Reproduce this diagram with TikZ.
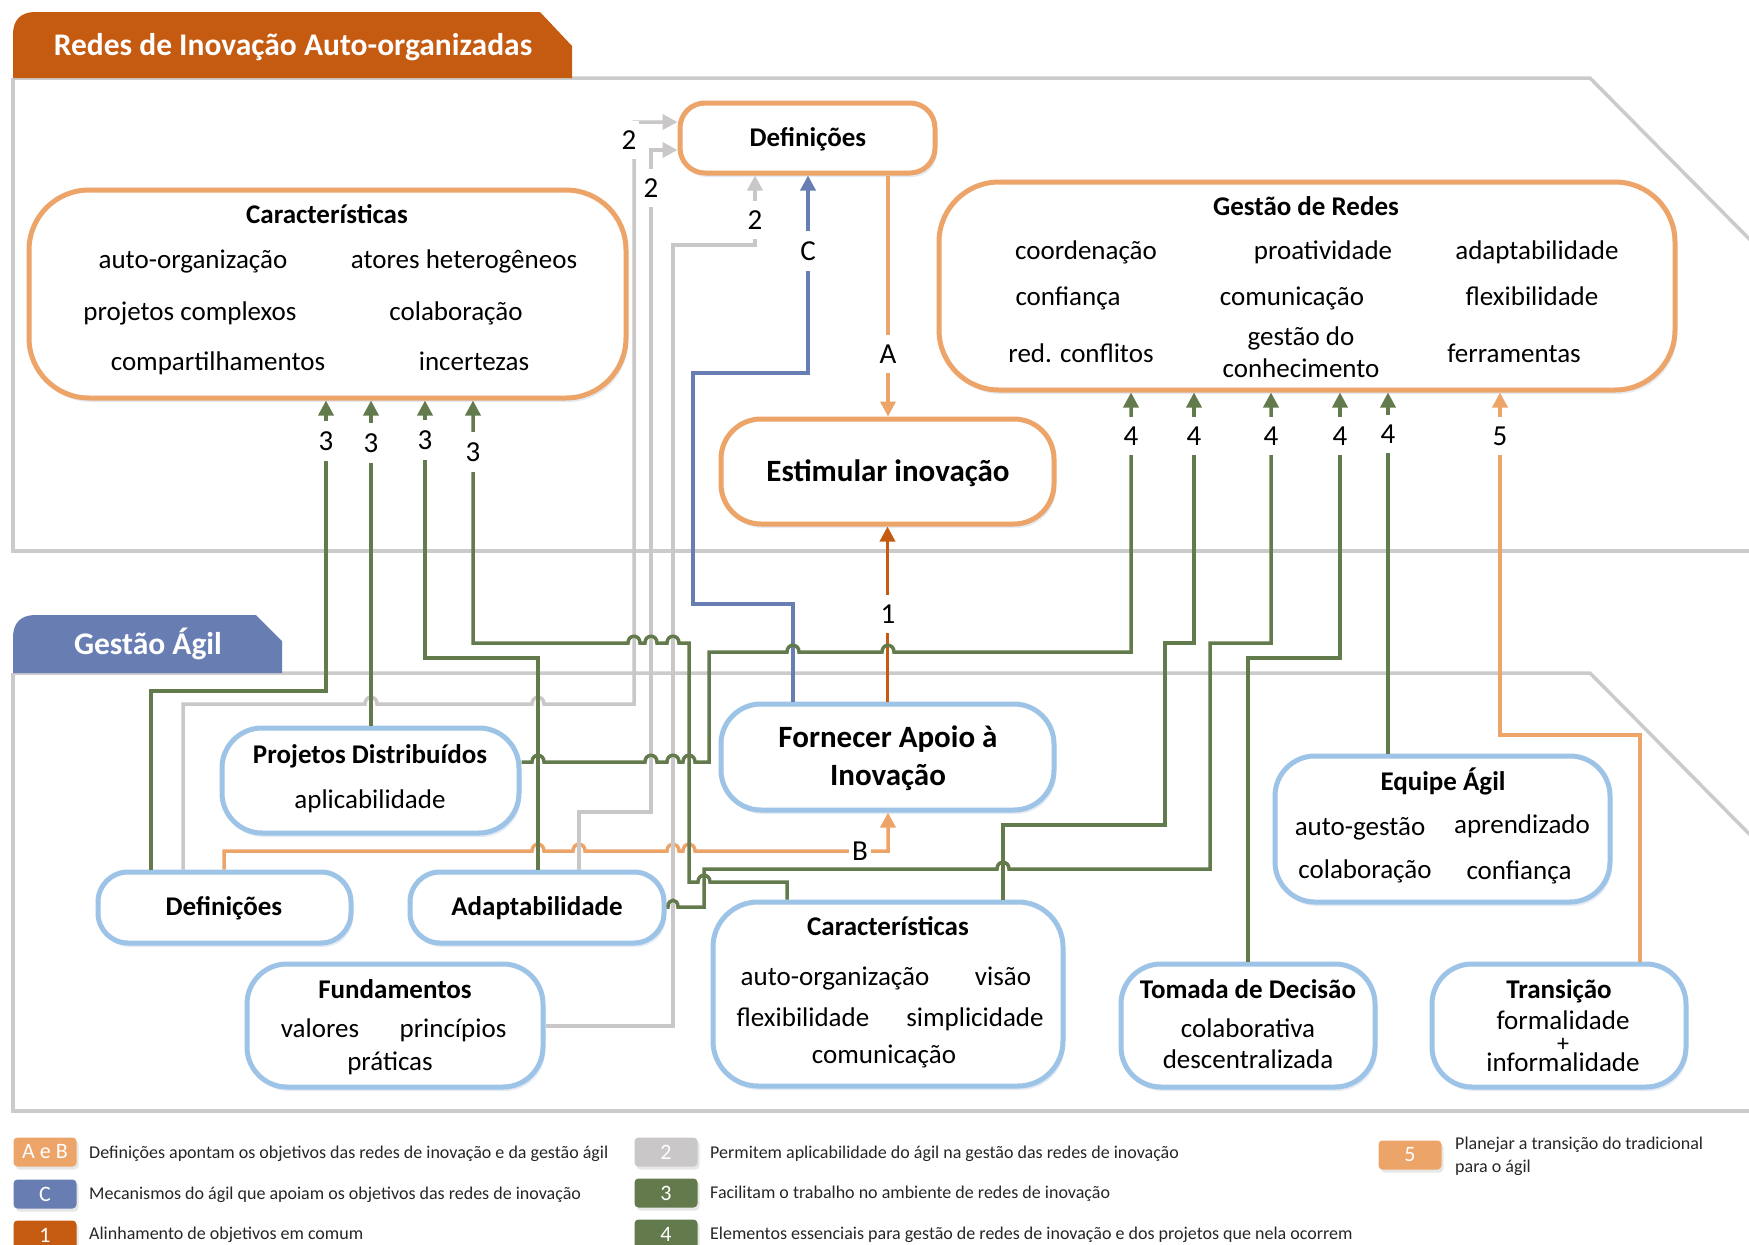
\documentclass[tikz,border=0pt]{standalone}
\usepackage{fontspec}
\setmainfont{Carlito}
\usetikzlibrary{arrows.meta,shadows}
\definecolor{obord}{HTML}{ECA469}
\definecolor{otab}{HTML}{C55A11}
\definecolor{bbord}{HTML}{9DC3E6}
\definecolor{btab}{HTML}{687EB3}
\definecolor{gline}{HTML}{637A4C}
\definecolor{grline}{HTML}{C9C7C7}
\definecolor{panelc}{HTML}{CBCBCB}
\definecolor{shadowc}{HTML}{C5D3EA}
\newcommand\fsz[2]{\fontsize{#1}{#2}\selectfont}
\begin{document}
\begin{tikzpicture}[x=1pt,y=-1pt,
  pan/.style={draw=panelc, line width=3.5pt},
  box/.style={draw, fill=white, line width=5pt, inner sep=0pt,
     drop shadow={shadow xshift=2pt, shadow yshift=-4pt, opacity=.45, fill=shadowc}},
  obox/.style={box, draw=obord},
  bbox/.style={box, draw=bbord},
  txt/.style={inner sep=0pt, anchor=mid, yshift=-5pt, font=\fsz{27}{32}},
  ttl/.style={inner sep=0pt, anchor=mid, yshift=-5pt, font=\fsz{27}{32}\bfseries},
  bigt/.style={inner sep=0pt, anchor=mid, yshift=-5pt, font=\fsz{31}{37}\bfseries},
  tabtxt/.style={inner sep=0pt, anchor=mid, yshift=-5pt, text=white, font=\fsz{31.5}{37}\bfseries},
  lbl/.style={fill=white, inner xsep=3pt, inner ysep=10pt, font=\fsz{29}{34}},
  con/.style={line width=3.5pt, -{Triangle[length=15pt,width=15pt]}},
  legbox/.style={fill=#1, rounded corners=4pt, minimum width=63pt, minimum height=29pt, inner sep=0pt, text=white, font=\fsz{22}{26},
     drop shadow={shadow xshift=2pt, shadow yshift=-3pt, opacity=.3, fill=black!30}},
  legtxt/.style={anchor=mid west, inner sep=0pt, yshift=-3pt, font=\fsz{18}{22}, text=black!85},
]
\clip (0,0) rectangle (1749,1245);
\fill[white] (0,0) rectangle (1749,1245);

% panels
\draw[pan] (13,78) -- (1590,78) -- (1770,260);
\draw[pan] (13,78) -- (13,551) -- (1760,551);
\draw[pan] (13,673) -- (1590,673) -- (1770,855);
\draw[pan] (13,673) -- (13,1111) -- (1760,1111);

% tabs
\fill[otab] (13,78) -- (13,34) .. controls (13,20) and (21,12) .. (35,12) -- (540,12) -- (572,46) -- (572,78) -- cycle;
\node[tabtxt] (tabA) at (293,48) {Redes de Inovação Auto-organizadas};
\fill[btab] (13,673) -- (13,637) .. controls (13,623) and (21,615) .. (35,615) -- (256,615) -- (282,641) -- (282,673) -- cycle;
\node[tabtxt] (tabB) at (148,647) {Gestão Ágil};

% upper boxes
\node[obox, rounded corners=25pt, minimum width=255pt, minimum height=70pt] (defTop) at (807.5,138) {};
\node[obox, rounded corners=60pt, minimum width=597pt, minimum height=208pt] (charTop) at (327.5,294) {};
\node[obox, rounded corners=60pt, minimum width=736pt, minimum height=208pt] (gestRedes) at (1307,286) {};
\node[obox, rounded corners=40pt, minimum width=333pt, minimum height=105pt] (estimular) at (887.5,471.5) {};

% lower boxes
\node[bbox, rounded corners=40pt, minimum width=333pt, minimum height=106pt] (fornecer) at (887.5,757) {};
\node[bbox, rounded corners=40pt, minimum width=297pt, minimum height=105pt] (projDist) at (370.5,780.5) {};
\node[bbox, rounded corners=30pt, minimum width=253pt, minimum height=71pt] (defLow) at (224.5,907.5) {};
\node[bbox, rounded corners=30pt, minimum width=254pt, minimum height=71pt] (adapt) at (537,907.5) {};
\node[bbox, rounded corners=40pt, minimum width=296pt, minimum height=123pt] (fund) at (395,1025.5) {};
\node[bbox, rounded corners=45pt, minimum width=350pt, minimum height=184pt] (charLow) at (888,994) {};
\node[bbox, rounded corners=40pt, minimum width=335pt, minimum height=146pt] (equipe) at (1442.5,829) {};
\node[bbox, rounded corners=40pt, minimum width=254pt, minimum height=123pt] (tomada) at (1248,1025.5) {};
\node[bbox, rounded corners=40pt, minimum width=254pt, minimum height=123pt] (transicao) at (1559,1025.5) {};

% texts
\node[ttl] (tDefTop) at (808,139) {Definições};
\node[ttl] (tCT) at (327,216) {Características};
\node[txt] (tCT1) at (193,261) {auto-organização};
\node[txt] (tCT2) at (464,261) {atores heterogêneos};
\node[txt] (tCT3) at (190,313) {projetos complexos};
\node[txt] (tCT4) at (456,313) {colaboração};
\node[txt] (tCT5) at (218,363) {compartilhamentos};
\node[txt] (tCT6) at (474,363) {incertezas};

\node[ttl] (tGR) at (1306,208) {Gestão de Redes};
\node[txt] (tGR1) at (1086,252) {coordenação};
\node[txt] (tGR2) at (1323,252) {proatividade};
\node[txt] (tGR3) at (1537,252) {adaptabilidade};
\node[txt] (tGR4) at (1068,298) {confiança};
\node[txt] (tGR5) at (1292,298) {comunicação};
\node[txt] (tGR6) at (1532,298) {flexibilidade};
\node[txt] (tGR7) at (1081,355) {red. conflitos};
\node[txt] (tGR8) at (1301,338) {gestão do};
\node[txt] (tGR9) at (1301,370) {conhecimento};
\node[txt] (tGR10) at (1514,355) {ferramentas};

\node[bigt] (tEst) at (888,474) {Estimular inovação};
\node[bigt] (tForn1) at (888,740) {Fornecer Apoio à};
\node[bigt] (tForn2) at (888,778) {Inovação};

\node[ttl] (tPD) at (370,756) {Projetos Distribuídos};
\node[txt] (tPD1) at (370,801) {aplicabilidade};
\node[ttl] (tDL) at (224,908) {Definições};
\node[ttl] (tAd) at (537,908) {Adaptabilidade};
\node[ttl] (tFu) at (395,991) {Fundamentos};
\node[txt] (tFu1) at (320,1030) {valores};
\node[txt] (tFu2) at (453,1030) {princípios};
\node[txt] (tFu3) at (390,1063) {práticas};

\node[ttl] (tCL) at (888,928) {Características};
\node[txt] (tCL1) at (835,978) {auto-organização};
\node[txt] (tCL2) at (1003,978) {visão};
\node[txt] (tCL3) at (803,1019) {flexibilidade};
\node[txt] (tCL4) at (975,1019) {simplicidade};
\node[txt] (tCL5) at (884,1056) {comunicação};

\node[ttl] (tEq) at (1443,783) {Equipe Ágil};
\node[txt] (tEq1) at (1360,828) {auto-gestão};
\node[txt] (tEq2) at (1522,826) {aprendizado};
\node[txt] (tEq3) at (1365,871) {colaboração};
\node[txt] (tEq4) at (1519,872) {confiança};

\node[ttl] (tTo) at (1248,991) {Tomada de Decisão};
\node[txt] (tTo1) at (1248,1030) {colaborativa};
\node[txt] (tTo2) at (1248,1061) {descentralizada};

\node[ttl] (tTr) at (1559,991) {Transição};
\node[txt] (tTr1) at (1563,1022) {formalidade};
\node[txt, font=\fsz{24}{28}] (tTr2) at (1563,1044) {+};
\node[txt] (tTr3) at (1563,1064) {informalidade};

% connectors
% A
\draw[con, obord] (888,0 |- defTop.south) -- (888,0 |- estimular.north);
% 1
\draw[con, otab] (fornecer.north) -- (estimular.south);
% C
\draw[con, btab] (793,0 |- fornecer.north) -- (793,604) -- (693,604) -- (693,373) -- (808,373) -- (808,0 |- defTop.south);
% B
\draw[con, obord] (224,0 |- defLow.north) -- (224,851)
  -- (532,851) .. controls (532,842) and (544,842) .. (544,851)
  -- (573,851) .. controls (573,842) and (585,842) .. (585,851)
  -- (667,851) .. controls (667,842) and (679,842) .. (679,851)
  -- (683,851) .. controls (683,842) and (695,842) .. (695,851)
  -- (888,851) -- (888,0 |- fornecer.south);
% gray a
\draw[con, grline] (183,0 |- defLow.north) -- (183,704)
  -- (365,704) .. controls (365,695) and (377,695) .. (377,704)
  -- (532,704) .. controls (532,695) and (544,695) .. (544,704)
  -- (634,704) -- (634,122) -- (defTop.west |- 0,122);
% gray b
\draw[con, grline] (579,0 |- adapt.north) -- (579,812) -- (651,812) -- (651,150) -- (defTop.west |- 0,150);
% gray c
\draw[con, grline] (fund.east |- 0,1026) -- (673,1026) -- (673,245) -- (755,245) -- (755,0 |- defTop.south);
% 3a
\draw[con, gline] (151,0 |- defLow.north) -- (151,691) -- (326,691) -- (326,0 |- charTop.south);
% 3b
\draw[con, gline] (371,0 |- projDist.north) -- (371,0 |- charTop.south);
% 3c
\draw[con, gline] (538,0 |- adapt.north) -- (538,658) -- (425,658) -- (425,0 |- charTop.south);
% 3d
\draw[con, gline] (787,0 |- charLow.north) -- (787,882)
  -- (710,882) .. controls (710,873) and (698,873) .. (698,882)
  -- (689,882) -- (689,643)
  -- (679,643) .. controls (679,634) and (667,634) .. (667,643)
  -- (657,643) .. controls (657,634) and (645,634) .. (645,643)
  -- (640,643) .. controls (640,634) and (628,634) .. (628,643)
  -- (473,643) -- (473,0 |- charTop.south);
% 4a
\draw[con, gline] (projDist.east |- 0,762)
  -- (532,762) .. controls (532,753) and (544,753) .. (544,762)
  -- (645,762) .. controls (645,753) and (657,753) .. (657,762)
  -- (667,762) .. controls (667,753) and (679,753) .. (679,762)
  -- (683,762) .. controls (683,753) and (695,753) .. (695,762)
  -- (709,762) -- (709,652)
  -- (787,652) .. controls (787,643) and (799,643) .. (799,652)
  -- (882,652) .. controls (882,643) and (894,643) .. (894,652)
  -- (1131,652) -- (1131,0 |- gestRedes.south);
% 4b
\draw[con, gline] (1003,0 |- charLow.north) -- (1003,825) -- (1165,825) -- (1165,643) -- (1194,643) -- (1194,0 |- gestRedes.south);
% 4c
\draw[con, gline] (adapt.east |- 0,907)
  -- (668,907) .. controls (668,898) and (678,898) .. (678,907)
  -- (704,907) -- (704,869)
  -- (997,869) .. controls (997,860) and (1009,860) .. (1009,869)
  -- (1210,869) -- (1210,643) -- (1271,643) -- (1271,0 |- gestRedes.south);
% 4d
\draw[con, gline] (1248,0 |- tomada.north) -- (1248,658) -- (1340,658) -- (1340,0 |- gestRedes.south);
% 4e
\draw[con, gline] (1388,0 |- equipe.north) -- (1388,0 |- gestRedes.south);
% 5
\draw[con, obord] (1640,0 |- transicao.north) -- (1640,735) -- (1500,735) -- (1500,0 |- gestRedes.south);

% labels
\node[lbl] (lA) at (888,354) {A};
\node[lbl] (l1) at (888,614) {1};
\node[lbl, inner ysep=4pt] (lB) at (860,851) {B};
\node[lbl] (lC) at (808,251) {C};
\node[lbl] (l2a) at (629,140) {2};
\node[lbl] (l2b) at (651,188) {2};
\node[lbl] (l2c) at (755,220) {2};
\node[lbl] (l3a) at (326,441) {3};
\node[lbl] (l3b) at (371,443) {3};
\node[lbl] (l3c) at (425,440) {3};
\node[lbl] (l3d) at (473,452) {3};
\node[lbl] (l4a) at (1131,436) {4};
\node[lbl] (l4b) at (1194,436) {4};
\node[lbl] (l4c) at (1271,436) {4};
\node[lbl] (l4d) at (1340,436) {4};
\node[lbl] (l4e) at (1388,434) {4};
\node[lbl] (l5) at (1500,436) {5};

% legend
\node[legbox=obord] (g1) at (45,1152) {A e B};
\node[legtxt] (g1t) at (89,1153) {Definições apontam os objetivos das redes de inovação e da gestão ágil};
\node[legbox=btab] (g2) at (45,1194) {C};
\node[legtxt] (g2t) at (89,1194) {Mecanismos do ágil que apoiam os objetivos das redes de inovação};
\node[legbox=otab] (g3) at (45,1235) {1};
\node[legtxt] (g3t) at (89,1234) {Alinhamento de objetivos em comum};
\node[legbox=grline] (g4) at (666,1152) {2};
\node[legtxt] (g4t) at (710,1153) {Permitem aplicabilidade do ágil na gestão das redes de inovação};
\node[legbox=gline] (g5) at (666,1193) {3};
\node[legtxt] (g5t) at (710,1193) {Facilitam o trabalho no ambiente de redes de inovação};
\node[legbox=gline] (g6) at (666,1234) {4};
\node[legtxt] (g6t) at (710,1234) {Elementos essenciais para gestão de redes de inovação e dos projetos que nela ocorrem};
\node[legbox=obord] (g7) at (1410,1155) {5};
\node[legtxt] (g7t) at (1455,1144) {Planejar a transição do tradicional};
\node[legtxt] (g7u) at (1455,1167) {para o ágil};
\end{tikzpicture}
\end{document}
